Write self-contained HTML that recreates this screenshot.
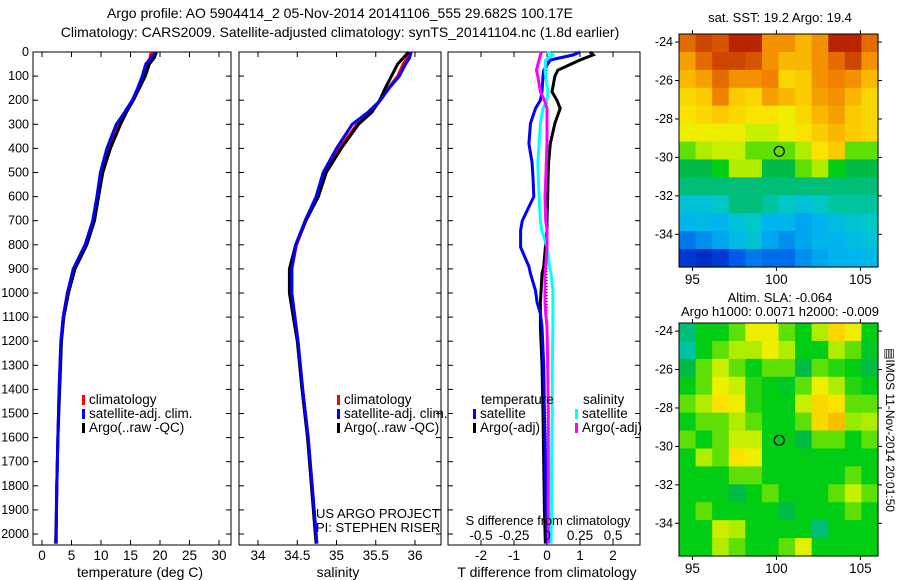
<!DOCTYPE html>
<html><head><meta charset="utf-8">
<style>
html,body{margin:0;padding:0;background:#fff;}
svg{display:block;font-family:"Liberation Sans",sans-serif;font-size:12.5px;}
.big{font-size:14px;}
</style></head>
<body>
<svg id="fig" width="900" height="580" viewBox="0 0 900 580">
<text class="big" x="340" y="18" text-anchor="middle">Argo profile: AO 5904414_2 05-Nov-2014 20141106_555 29.682S 100.17E</text>
<text class="big" x="340" y="37" text-anchor="middle">Climatology: CARS2009. Satellite-adjusted climatology: synTS_20141104.nc (1.8d earlier)</text>
<g id="plots"></g>
</svg>
<script>
const depths=[0,25,50,100,150,200,250,300,400,500,600,700,800,900,1000,1100,1200,1400,1600,1800,2000,2040];
const tempArgo=[19.4,19.0,18.2,17.5,16.5,15.5,14.3,13.3,11.6,10.3,9.6,8.9,7.6,5.6,4.5,3.7,3.3,3.0,2.7,2.5,2.35,2.3];
const tempClim=[18.5,18.3,17.8,17.2,16.3,15.3,14.1,13.0,11.3,10.0,9.4,8.7,7.3,5.3,4.3,3.6,3.2,2.9,2.7,2.5,2.4,2.4];
const tempSat=[19.2,18.5,17.6,17.0,16.2,15.3,14.0,12.6,11.0,9.9,9.3,8.6,7.3,5.3,4.3,3.6,3.2,2.9,2.7,2.5,2.4,2.4];
const salArgo=[35.92,35.85,35.78,35.70,35.62,35.55,35.45,35.28,35.06,34.87,34.77,34.61,34.48,34.40,34.40,34.45,34.50,34.56,34.63,34.68,34.73,34.74];
const salClim=[35.93,35.9,35.85,35.78,35.66,35.56,35.44,35.26,35.04,34.85,34.76,34.61,34.49,34.43,34.43,34.47,34.51,34.57,34.64,34.69,34.74,34.75];
const salSat=[35.95,35.93,35.88,35.8,35.67,35.56,35.40,35.20,35.00,34.83,34.74,34.60,34.48,34.43,34.43,34.47,34.51,34.57,34.64,34.69,34.74,34.75];
const diffDepths=[0,12,33,75,100,165,200,234,296,380,460,530,600,700,740,810,890,920,990,1040,1085,1140,1300,1500,1700,1900,2040];
const dTargo=[1.3,1.4,1.0,0.33,0.24,0.15,0.3,0.4,0.24,0.1,0.05,0.03,0.02,0.0,0.0,-0.05,-0.1,-0.15,-0.18,-0.2,-0.2,-0.2,-0.15,-0.12,-0.1,-0.08,-0.05];
const dTsat=[1.0,0.8,0.1,-0.1,-0.12,-0.15,-0.2,-0.35,-0.5,-0.55,-0.45,-0.42,-0.4,-0.75,-0.8,-0.8,-0.55,-0.5,-0.35,-0.3,-0.2,-0.15,-0.1,-0.08,-0.05,-0.03,0];
const dSsat=[0,0.045,-0.01,-0.015,-0.01,0.007,0.0,-0.03,-0.05,-0.06,-0.07,-0.065,-0.06,-0.05,-0.04,0,0.02,0.03,0.045,0.045,0.045,0.045,0.04,0.04,0.035,0.035,0.03];
const dSargo=[-0.04,-0.05,-0.06,-0.08,-0.07,-0.05,-0.02,0,0,0,-0.005,-0.01,-0.015,-0.01,0,0,-0.01,-0.015,-0.015,-0.015,-0.01,0,0.005,0.01,0.01,0.01,0.01];
const depthTicks=[0,100,200,300,400,500,600,700,800,900,1000,1100,1200,1300,1400,1500,1600,1700,1800,1900,2000];
const tempTicks=[0,5,10,15,20,25,30];
const salTicks=[34,34.5,35,35.5,36];
const dTTicks=[-2,-1,0,1,2];
const dSTicks=[-0.5,-0.25,0,0.25,0.5];
const sstGrid=[
[0.85,0.9,0.88,0.95,0.95,0.8,0.8,0.75,0.8,0.95,0.95,0.85],
[0.78,0.85,0.9,0.9,0.88,0.8,0.75,0.75,0.8,0.85,0.9,0.8],
[0.75,0.78,0.85,0.8,0.8,0.82,0.7,0.72,0.8,0.82,0.8,0.75],
[0.7,0.72,0.82,0.72,0.7,0.78,0.75,0.72,0.78,0.8,0.75,0.7],
[0.68,0.7,0.72,0.7,0.68,0.68,0.65,0.7,0.75,0.78,0.72,0.7],
[0.65,0.65,0.65,0.65,0.62,0.62,0.65,0.68,0.72,0.75,0.72,0.7],
[0.55,0.6,0.62,0.62,0.55,0.55,0.55,0.6,0.68,0.72,0.55,0.55],
[0.45,0.45,0.5,0.6,0.6,0.45,0.45,0.55,0.6,0.5,0.45,0.45],
[0.42,0.42,0.42,0.42,0.42,0.42,0.42,0.42,0.42,0.42,0.42,0.42],
[0.35,0.35,0.38,0.42,0.42,0.4,0.38,0.35,0.38,0.4,0.4,0.4],
[0.3,0.32,0.3,0.35,0.38,0.3,0.3,0.28,0.3,0.33,0.36,0.38],
[0.22,0.25,0.28,0.32,0.36,0.28,0.25,0.28,0.3,0.3,0.33,0.35],
[0.12,0.1,0.12,0.18,0.22,0.2,0.2,0.25,0.28,0.3,0.3,0.32]];
const slaGrid=[
[0.42,0.5,0.5,0.55,0.65,0.65,0.55,0.5,0.6,0.7,0.65,0.5],
[0.4,0.5,0.55,0.6,0.6,0.65,0.6,0.5,0.5,0.6,0.55,0.48],
[0.45,0.55,0.62,0.55,0.5,0.55,0.55,0.45,0.55,0.52,0.5,0.45],
[0.5,0.55,0.65,0.62,0.52,0.5,0.48,0.55,0.65,0.6,0.52,0.5],
[0.55,0.6,0.68,0.65,0.52,0.5,0.5,0.62,0.7,0.68,0.55,0.55],
[0.5,0.55,0.55,0.6,0.55,0.5,0.5,0.55,0.7,0.74,0.58,0.6],
[0.55,0.5,0.55,0.62,0.62,0.5,0.5,0.45,0.55,0.55,0.5,0.55],
[0.5,0.6,0.55,0.68,0.65,0.5,0.5,0.5,0.5,0.5,0.5,0.5],
[0.5,0.5,0.5,0.55,0.55,0.5,0.5,0.5,0.5,0.5,0.55,0.5],
[0.5,0.5,0.5,0.45,0.5,0.55,0.5,0.5,0.5,0.55,0.62,0.55],
[0.5,0.55,0.5,0.5,0.5,0.5,0.45,0.5,0.5,0.5,0.55,0.5],
[0.5,0.5,0.62,0.6,0.5,0.5,0.5,0.5,0.42,0.5,0.5,0.5],
[0.5,0.5,0.6,0.55,0.5,0.5,0.55,0.64,0.5,0.5,0.5,0.5]];
const lonTicks=[95,100,105];
const latTicks=[-24,-26,-28,-30,-32,-34];
const argoLon=100.17, argoLat=-29.682;

const NS='http://www.w3.org/2000/svg';
const root=document.getElementById('plots');
function mk(tag,attrs,parent,txt){const e=document.createElementNS(NS,tag);for(const k in attrs)e.setAttribute(k,attrs[k]);if(txt!==undefined)e.textContent=txt;(parent||root).appendChild(e);return e;}
const yTop=52, pxPer=0.241, panelBottom=545;
function yD(d){return yTop+d*pxPer;}
function xLin(x0,x1,v0,v1){return v=>x0+(v-v0)*(x1-x0)/(v1-v0);}
const xT=xLin(42,219,0,30), xS=xLin(258,415,34,36), xDT=xLin(547,580,0,1), xDS=v=>xDT(v*4);

function frame(name,x0,x1,ticksX,xf,labelLeft){
  const g=mk('g',{});
  
  
  const r=mk('rect',{x:x0,y:yTop,width:x1-x0,height:panelBottom-yTop,fill:'none',stroke:'#000','stroke-width':1},g);
  
  
  depthTicks.forEach(d=>{
    mk('line',{x1:x0,x2:x0+5,y1:yD(d),y2:yD(d),stroke:'#000'},g);
    mk('line',{x1:x1-5,x2:x1,y1:yD(d),y2:yD(d),stroke:'#000'},g);
    if(labelLeft){const t=mk('text',{x:x0-4,y:yD(d)+4,'text-anchor':'end'},g,String(d));
      
      }
  });
  ticksX.forEach(v=>{
    mk('line',{x1:xf(v),x2:xf(v),y1:yTop,y2:yTop+5,stroke:'#000'},g);
    mk('line',{x1:xf(v),x2:xf(v),y1:panelBottom-5,y2:panelBottom,stroke:'#000'},g);
  });
  return g;
}
function line(g,xs,ds,xf,color,name){
  const pts=xs.map((v,i)=>xf(v).toFixed(1)+','+yD(ds[i]).toFixed(1)).join(' ');
  const p=mk('polyline',{points:pts,fill:'none',stroke:color,'stroke-width':3,'stroke-linejoin':'miter'},g);
  
  
}
function legendEntry(g,x,y,color,label,name){
  mk('rect',{x:x,y:y-9,width:3,height:10,fill:color},g);
  const t=mk('text',{x:x+7,y:y,'font-size':'13.5px'},g,label);
  
  
}
function xTickLabels(g,ticks,xf,y){ticks.forEach(v=>{const t=mk('text',{x:xf(v),y:y,'text-anchor':'middle','font-size':'13.5px'},g,String(v));
  
  });}
function bigText(g,x,y,s,name){const t=mk('text',{x:x,y:y,'text-anchor':'middle',class:'big'},g,s);
  
  return t;}

// temperature panel
const gT=frame('temperature-panel',33,231,tempTicks,xT,true);
line(gT,tempClim,depths,xT,'#f00','temp-climatology-line');
line(gT,tempArgo,depths,xT,'#000','temp-argo-line');
line(gT,tempSat,depths,xT,'#00f','temp-satellite-line');
xTickLabels(gT,tempTicks,xT,560);
bigText(gT,140,577,'temperature (deg C)','temperature-axis-title');
legendEntry(gT,82,404,'#f00','climatology','legend-climatology');
legendEntry(gT,82,418,'#00f','satellite-adj. clim.','legend-satellite');
legendEntry(gT,82,432,'#000','Argo(..raw -QC)','legend-argo');

// salinity panel
const gS=frame('salinity-panel',239,441,salTicks,xS,false);
line(gS,salClim,depths,xS,'#f00','sal-climatology-line');
line(gS,salArgo,depths,xS,'#000','sal-argo-line');
line(gS,salSat,depths,xS,'#00f','sal-satellite-line');
xTickLabels(gS,salTicks,xS,560);
bigText(gS,338,577,'salinity','salinity-axis-title');
legendEntry(gS,337,404,'#f00','climatology','legend-climatology');
legendEntry(gS,337,418,'#00f','satellite-adj. clim.','legend-satellite');
legendEntry(gS,337,432,'#000','Argo(..raw -QC)','legend-argo');
let t=mk('text',{x:316,y:518,'font-size':'13px'},gS,'US ARGO PROJECT');


t=mk('text',{x:316,y:532,'font-size':'13px'},gS,'PI: STEPHEN RISER');



// difference panel
const gD=frame('difference-panel',448,640,dTTicks,xDT,false);
mk('line',{x1:xDT(0),x2:xDT(0),y1:yTop,y2:panelBottom,stroke:'#000','stroke-dasharray':'1,2'},gD);
line(gD,dTargo,diffDepths,xDT,'#000','temp-argo-diff-line');
line(gD,dTsat,diffDepths,xDT,'#00f','temp-satellite-diff-line');
line(gD,dSsat,diffDepths,xDS,'#0ff','sal-satellite-diff-line');
line(gD,dSargo,diffDepths,xDS,'#f0f','sal-argo-diff-line');
xTickLabels(gD,dTTicks,xDT,560);
xTickLabels(gD,dSTicks,xDS,540);
bigText(gD,547,577,'T difference from climatology','t-diff-axis-title');
t=mk('text',{x:548,y:525,'text-anchor':'middle','font-size':'12.8px'},gD,'S difference from climatology');


t=mk('text',{x:481,y:404,'font-size':'13.5px'},gD,'temperature');


t=mk('text',{x:583,y:404,'font-size':'13.5px'},gD,'salinity');


legendEntry(gD,473,418,'#00f','satellite','legend-temp-satellite');
legendEntry(gD,473,432,'#000','Argo(-adj)','legend-temp-argo');
legendEntry(gD,575,418,'#0ff','satellite','legend-sal-satellite');
legendEntry(gD,575,432,'#f0f','Argo(-adj)','legend-sal-argo');

// maps
const cstops=[[0,[0,0,140]],[0.15,[0,70,230]],[0.3,[0,180,240]],[0.38,[0,200,200]],[0.44,[0,185,80]],[0.5,[0,205,20]],[0.58,[150,235,0]],[0.66,[250,240,0]],[0.74,[250,190,0]],[0.82,[240,130,0]],[0.9,[205,70,0]],[1,[165,0,0]]];
function cmap(v){for(let i=1;i<cstops.length;i++){if(v<=cstops[i][0]){const a=cstops[i-1],b=cstops[i];const f=(v-a[0])/(b[0]-a[0]);const c=a[1].map((x,k)=>Math.round(x+(b[1][k]-x)*f));return 'rgb('+c.join(',')+')';}}return 'rgb(165,0,0)';}
const mX0=679,mX1=878,lon0=94.2,lon1=106.05,latTopV=-23.58,latBotV=-35.7;
function mapPanel(name,y0,grid){
  const y1=y0+233;
  const g=mk('g',{});
  
  
  const rows=grid.length,cols=grid[0].length,cw=(mX1-mX0)/cols,ch=(y1-y0)/rows;
  grid.forEach((row,i)=>row.forEach((v,j)=>{
    const c=mk('rect',{x:mX0+j*cw,y:y0+i*ch,width:cw+0.6,height:ch+0.6,fill:cmap(v)},g);
    
    
  }));
  const lx=v=>mX0+(v-lon0)*(mX1-mX0)/(lon1-lon0), ly=v=>y0+(latTopV-v)*(y1-y0)/(latTopV-latBotV);
  mk('rect',{x:mX0,y:y0,width:mX1-mX0,height:y1-y0,fill:'none',stroke:'#000'},g);
  lonTicks.forEach(v=>{mk('line',{x1:lx(v),x2:lx(v),y1:y0-4,y2:y0,stroke:'#000'},g);mk('line',{x1:lx(v),x2:lx(v),y1:y1,y2:y1+4,stroke:'#000'},g);
    const tt=mk('text',{x:lx(v),y:y1+17,'text-anchor':'middle','font-size':'13.5px'},g,String(v));
    
    });
  latTicks.forEach(v=>{mk('line',{x1:mX0-4,x2:mX0,y1:ly(v),y2:ly(v),stroke:'#000'},g);mk('line',{x1:mX1,x2:mX1+4,y1:ly(v),y2:ly(v),stroke:'#000'},g);
    const tt=mk('text',{x:mX0-6,y:ly(v)+4,'text-anchor':'end'},g,String(v));
    
    });
  const m=mk('circle',{cx:lx(argoLon),cy:ly(argoLat),r:5,fill:'none',stroke:'#000','stroke-width':1.2},g);
  
  
  return g;
}
const g1=mapPanel('sst-map',34,sstGrid);
t=mk('text',{x:780,y:22,'text-anchor':'middle','font-size':'13px'},g1,'sat. SST: 19.2 Argo: 19.4');


const g2=mapPanel('sla-map',323,slaGrid);
t=mk('text',{x:780,y:302,'text-anchor':'middle','font-size':'13px'},g2,'Altim. SLA: -0.064');


t=mk('text',{x:780,y:316,'text-anchor':'middle','font-size':'13px'},g2,'Argo h1000: 0.0071 h2000: -0.009');


t=mk('text',{x:886,y:430,'text-anchor':'middle','font-size':'12px',transform:'rotate(90 886 430)'},g2,'\u25A4IMOS 11-Nov-2014 20:01:50');


</script>
</body></html>
